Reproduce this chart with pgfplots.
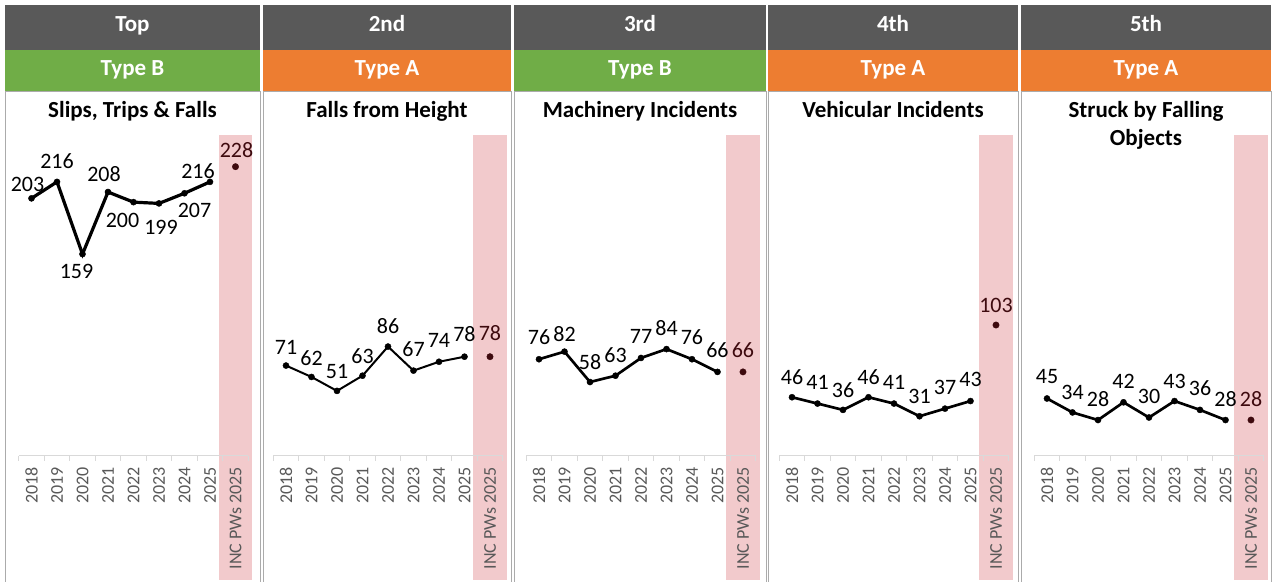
\documentclass[border=0pt]{standalone}
\usepackage{pgfplots}
\pgfplotsset{compat=1.18}
\usepackage{pgfplotstable}
\usepackage{fontspec}
\setmainfont{Carlito}
\definecolor{hdr}{HTML}{595959}
\definecolor{grn}{HTML}{70AD47}
\definecolor{org}{HTML}{ED7D31}
\definecolor{pinkc}{RGB}{242,202,204}
\definecolor{incc}{RGB}{62,10,14}
\definecolor{tickc}{HTML}{595959}
\definecolor{axc}{HTML}{D9D9D9}
\definecolor{brd}{HTML}{ABABAB}

% columns: x, value, label shift right (px), label shift up (px)
\pgfplotstableread{
x y dx dy
0 203 -4 14
1 216 0 21
2 159 -6 -17
3 208 -4 18
4 200 -11 -18
5 199 2 -24
6 207 10 -17
7 216 -12 11
}\dataA
\pgfplotstableread{
x y dx dy
8 228 1 17
}\incA
\pgfplotstableread{
x y dx dy
0 71 0 18
1 62 0 19
2 51 0 19
3 63 0 20
4 86 0 20
5 67 0 21
6 74 0 21
7 78 0 23
}\dataB
\pgfplotstableread{
x y dx dy
8 78 0 24
}\incB
\pgfplotstableread{
x y dx dy
0 76 0 22
1 82 0 18
2 58 0 20
3 63 0 21
4 77 0 22
5 84 0 21
6 76 0 22
7 66 0 22
}\dataC
\pgfplotstableread{
x y dx dy
8 66 0 22
}\incC
\pgfplotstableread{
x y dx dy
0 46 0 20
1 41 0 21
2 36 0 20
3 46 0 20
4 41 0 21
5 31 0 20
6 37 0 21
7 43 0 22
}\dataD
\pgfplotstableread{
x y dx dy
8 103 0 20
}\incD
\pgfplotstableread{
x y dx dy
0 45 0 22
1 34 0 20
2 28 0 21
3 42 0 21
4 30 0 21
5 43 0 20
6 36 0 22
7 28 0 21
}\dataE
\pgfplotstableread{
x y dx dy
8 28 0 21
}\incE

\pgfplotsset{
  panel/.style={
    at={({#1*0.75pt},{-455.5*0.75pt})}, anchor=south west,
    scale only axis, width=172.125pt, height=240.375pt,
    xmin=-0.5, xmax=8.5, ymin=0, ymax=253,
    clip=false, axis on top,
    axis x line*=bottom, axis y line=none,
    x axis line style={draw=axc, line width=0.75pt},
    xtick={0,...,8},
    xticklabels={2018,2019,2020,2021,2022,2023,2024,2025,INC PWs 2025},
    major tick length=0pt,
    minor xtick={-0.5,0.5,...,8.5},
    minor tick length=3.75pt, tick align=outside,
    minor tick style={draw=axc, line width=0.75pt},
    xticklabel style={rotate=90, anchor=east, inner sep=0pt,
      font=\fontsize{13.5}{14}\selectfont, text=tickc},
    xticklabel shift=8.6pt,
    /pgf/number format/assume math mode=true,
  },
  lbl/.style={
    nodes near coords, point meta=y,
    visualization depends on={\thisrow{dx}\as\dx},
    visualization depends on={\thisrow{dy}\as\dy},
    nodes near coords style={anchor=center, inner sep=0pt,
      xshift={\dx*0.75pt}, yshift={\dy*0.75pt},
      font=\fontsize{16.5}{18}\selectfont, text=#1},
  },
  serie/.style={black, line width=#1, mark=*, mark size=2.3pt,
    mark options={line width=0.3pt, solid}, lbl=black},
  inc/.style={only marks, mark=*, mark size=2.4pt, color=incc,
    mark options={line width=0.3pt}, lbl=incc},
}

\newcommand\panel[7]{%
  \fill[hdr] (#1,5) rectangle (#2,49.5);
  \fill[#4] (#1,49.5) rectangle (#2,90.5);
  \draw[brd, line width=0.75pt] (#1,582) -- (#1,91) -- (#2,91) -- (#2,582);
  \node[anchor=base, text=white, font=\bfseries\fontsize{17.25}{20}\selectfont, inner sep=0pt]
    at ({(#1+#2)/2},31.5) {#3};
  \node[anchor=base, text=white, font=\bfseries\fontsize{17.25}{20}\selectfont, inner sep=0pt]
    at ({(#1+#2)/2},75.5) {#5};
  \node[anchor=base, text=black, font=\bfseries\fontsize{17.25}{20}\selectfont, inner sep=0pt]
    at ({(#1+#2)/2},117.5) {#6};
  \node[anchor=base, text=black, font=\bfseries\fontsize{17.25}{20}\selectfont, inner sep=0pt]
    at ({(#1+#2)/2},145) {#7};
}

\begin{document}
\begin{tikzpicture}
\useasboundingbox (0,0) rectangle (956.25pt,-436.5pt);
\begin{scope}[x=0.75pt,y=-0.75pt]
  \fill[white] (0,0) rectangle (1275,582);
  \panel{5}{260}{Top}{grn}{Type B}{Slips, Trips \& Falls}{}
  \panel{263}{511}{2nd}{org}{Type A}{Falls from Height}{}
  \panel{514}{766}{3rd}{grn}{Type B}{Machinery Incidents}{}
  \panel{768}{1018}{4th}{org}{Type A}{Vehicular Incidents}{}
  \panel{1021}{1271}{5th}{org}{Type A}{Struck by Falling}{Objects}
\end{scope}

\begin{axis}[panel=18.75]
  \fill[pinkc] (axis cs:7.35,-98.5) rectangle (axis cs:8.65,253);
  \addplot[serie=2.4pt] table[x=x,y=y]{\dataA};
  \addplot[inc] table[x=x,y=y]{\incA};
\end{axis}
\begin{axis}[panel=273.25]
  \fill[pinkc] (axis cs:7.35,-98.5) rectangle (axis cs:8.65,253);
  \addplot[serie=1.5pt] table[x=x,y=y]{\dataB};
  \addplot[inc] table[x=x,y=y]{\incB};
\end{axis}
\begin{axis}[panel=526.25]
  \fill[pinkc] (axis cs:7.35,-98.5) rectangle (axis cs:8.65,253);
  \addplot[serie=2pt] table[x=x,y=y]{\dataC};
  \addplot[inc] table[x=x,y=y]{\incC};
\end{axis}
\begin{axis}[panel=779.25]
  \fill[pinkc] (axis cs:7.35,-98.5) rectangle (axis cs:8.65,253);
  \addplot[serie=2pt] table[x=x,y=y]{\dataD};
  \addplot[inc] table[x=x,y=y]{\incD};
\end{axis}
\begin{axis}[panel=1034.25]
  \fill[pinkc] (axis cs:7.35,-98.5) rectangle (axis cs:8.65,253);
  \addplot[serie=2pt] table[x=x,y=y]{\dataE};
  \addplot[inc] table[x=x,y=y]{\incE};
\end{axis}
\end{tikzpicture}
\end{document}
